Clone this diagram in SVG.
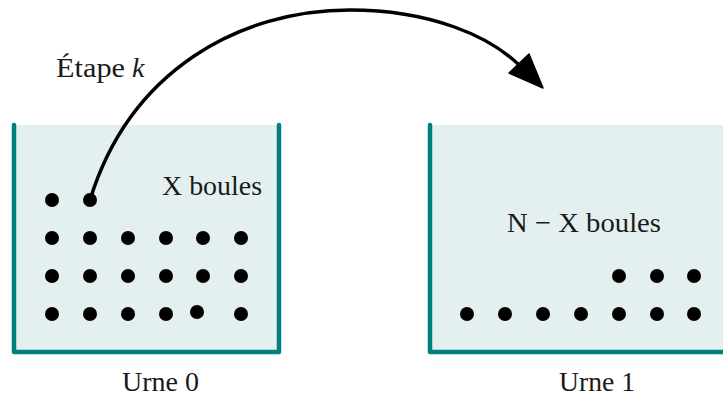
<svg xmlns="http://www.w3.org/2000/svg" width="723" height="398" viewBox="0 0 723 398">
  <style>
    .fill { fill: #e4f0f0; stroke: none; }
    .wall { fill: none; stroke: #008080; stroke-width: 4.5; stroke-linecap: round; stroke-linejoin: round; }
    .ball { fill: #000; }
    .arc { fill: none; stroke: #000; stroke-width: 3.4; stroke-linecap: round; }
    text { font-family: "Liberation Serif", "Times New Roman", serif; font-size: 28px; fill: #1a1a1a; }
  </style>
  <rect width="723" height="398" fill="#ffffff"/>

  <!-- Urne 0 -->
  <g id="urne0">
    <rect class="fill" x="14" y="125" width="265" height="227"/>
    <path class="wall" d="M14,125 V352 H279 V125"/>
    <g class="balls">
      <circle class="ball" cx="52" cy="200" r="7"/>
      <circle class="ball" cx="90" cy="200" r="7"/>
      <circle class="ball" cx="52" cy="238" r="7"/>
      <circle class="ball" cx="90" cy="238" r="7"/>
      <circle class="ball" cx="128" cy="238" r="7"/>
      <circle class="ball" cx="166" cy="238" r="7"/>
      <circle class="ball" cx="203" cy="238" r="7"/>
      <circle class="ball" cx="241" cy="238" r="7"/>
      <circle class="ball" cx="52" cy="276" r="7"/>
      <circle class="ball" cx="90" cy="276" r="7"/>
      <circle class="ball" cx="128" cy="276" r="7"/>
      <circle class="ball" cx="166" cy="276" r="7"/>
      <circle class="ball" cx="203" cy="276" r="7"/>
      <circle class="ball" cx="241" cy="276" r="7"/>
      <circle class="ball" cx="52" cy="314" r="7"/>
      <circle class="ball" cx="90" cy="314" r="7"/>
      <circle class="ball" cx="128" cy="314" r="7"/>
      <circle class="ball" cx="166" cy="314" r="7"/>
      <circle class="ball" cx="197" cy="312" r="7"/>
      <circle class="ball" cx="241" cy="314" r="7"/>
    </g>
    <text x="162" y="195" textLength="100" lengthAdjust="spacingAndGlyphs">X boules</text>
    <text x="122" y="391" textLength="77" lengthAdjust="spacingAndGlyphs">Urne 0</text>
  </g>

  <!-- Urne 1 -->
  <g id="urne1">
    <rect class="fill" x="430" y="125" width="300" height="227"/>
    <path class="wall" d="M430,125 V352 H730"/>
    <g class="balls">
      <circle class="ball" cx="619" cy="276" r="7"/>
      <circle class="ball" cx="657" cy="276" r="7"/>
      <circle class="ball" cx="694" cy="276" r="7"/>
      <circle class="ball" cx="467" cy="314" r="7"/>
      <circle class="ball" cx="505" cy="314" r="7"/>
      <circle class="ball" cx="543" cy="314" r="7"/>
      <circle class="ball" cx="581" cy="314" r="7"/>
      <circle class="ball" cx="619" cy="314" r="7"/>
      <circle class="ball" cx="657" cy="314" r="7"/>
      <circle class="ball" cx="694" cy="314" r="7"/>
    </g>
    <text x="507" y="232" textLength="154" lengthAdjust="spacingAndGlyphs">N − X boules</text>
    <text x="559" y="391" textLength="76" lengthAdjust="spacingAndGlyphs">Urne 1</text>
  </g>

  <!-- Transfer of one ball -->
  <g id="connectors">
    <path class="arc" d="M90,200 C130,70 240,10 350,10 C430,10 490,36 520,66"/>
    <polygon points="543,88 509,73 529,54" fill="#000" stroke="#000" stroke-width="1.5" stroke-linejoin="round"/>
    <text x="56" y="77"><tspan textLength="69" lengthAdjust="spacingAndGlyphs">Étape</tspan><tspan x="132" font-style="italic">k</tspan></text>
  </g>
</svg>
